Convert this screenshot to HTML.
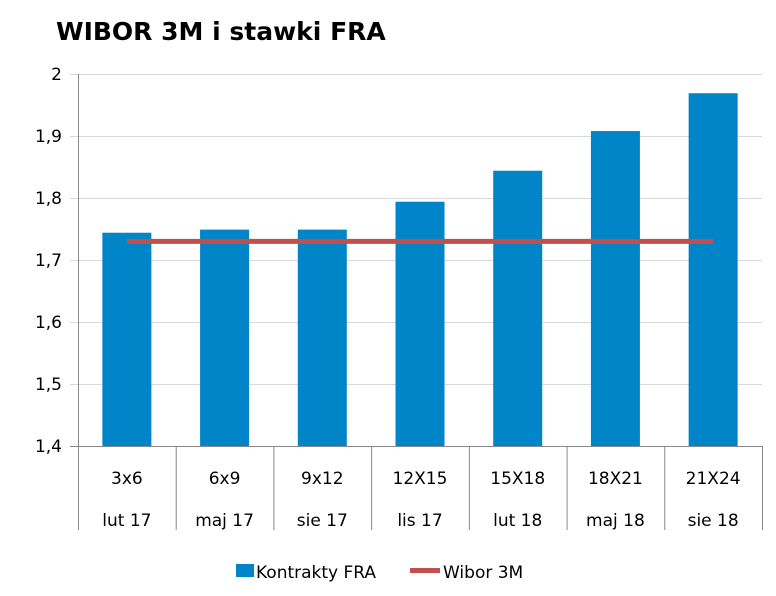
<!DOCTYPE html>
<html><head><meta charset="utf-8"><style>
body{margin:0;background:#fff;}
svg text{font-family:"DejaVu Sans","Liberation Sans",sans-serif;fill:#000;}
</style></head><body>
<svg width="776" height="591" xmlns="http://www.w3.org/2000/svg">
<text x="56" y="40" font-size="25" font-weight="bold">WIBOR 3M i stawki FRA</text>
<g id="plot"></g>
<g>
<rect x="236" y="564" width="18" height="13" fill="#0086C8"></rect>
<text x="256" y="578" font-size="17">Kontrakty FRA</text>
<line x1="410" y1="570.5" x2="440" y2="570.5" stroke="#C0504D" stroke-width="5"></line>
<text x="443" y="578" font-size="17">Wibor 3M</text>
</g>
</svg>
<script>
const categories=["3x6","6x9","9x12","12X15","15X18","18X21","21X24"];
const dates=["lut 17","maj 17","sie 17","lis 17","lut 18","maj 18","sie 18"];
const fraValues=[1.744,1.749,1.749,1.794,1.844,1.908,1.969];
const wiborValues=[1.73,1.73,1.73,1.73,1.73,1.73,1.73];
const yTicks=[1.4,1.5,1.6,1.7,1.8,1.9,2];
const yTickLabels=["1,4","1,5","1,6","1,7","1,8","1,9","2"];
const NS="http://www.w3.org/2000/svg";
const g=document.getElementById('plot');
const L=78,R=762,T=74,B=446,ymin=1.4,ymax=2;
const y=v=>B-(v-ymin)/(ymax-ymin)*(B-T);
const cw=(R-L)/categories.length;
const xc=i=>L+cw*(i+0.5);
function mk(t,a){const e=document.createElementNS(NS,t);for(const k in a)e.setAttribute(k,a[k]);g.appendChild(e);return e;}
yTicks.forEach((v,i)=>{
 const l=mk('line',{x1:70,x2:R,y1:y(v)+0.5,y2:y(v)+0.5,stroke:i==0?'#888':'#d9d9d9','stroke-width':1});
 
 
 const t=mk('text',{x:62,y:y(v)+6,'font-size':17,'text-anchor':'end'});
 t.textContent=yTickLabels[i];
 
 
});
const ax=mk('line',{x1:L+0.5,x2:L+0.5,y1:T,y2:B,stroke:'#888'});


for(let i=0;i<=categories.length;i++){
 const s=mk('line',{x1:L+cw*i+0.5,x2:L+cw*i+0.5,y1:B,y2:530,stroke:'#888'});
 
 
}
fraValues.forEach((v,i)=>{
 const b=mk('rect',{x:xc(i)-24.5,y:y(v),width:49,height:B-y(v),fill:'#0086C8'});
 
 
 const t1=mk('text',{x:xc(i),y:484,'font-size':17,'text-anchor':'middle'});
 t1.textContent=categories[i];
 
 
 const t2=mk('text',{x:xc(i),y:526,'font-size':17,'text-anchor':'middle'});
 t2.textContent=dates[i];
 
 
});
const pl=mk('polyline',{points:wiborValues.map((v,i)=>xc(i)+','+y(v)).join(' '),fill:'none',stroke:'#C0504D','stroke-width':5});


</script>
</body></html>
